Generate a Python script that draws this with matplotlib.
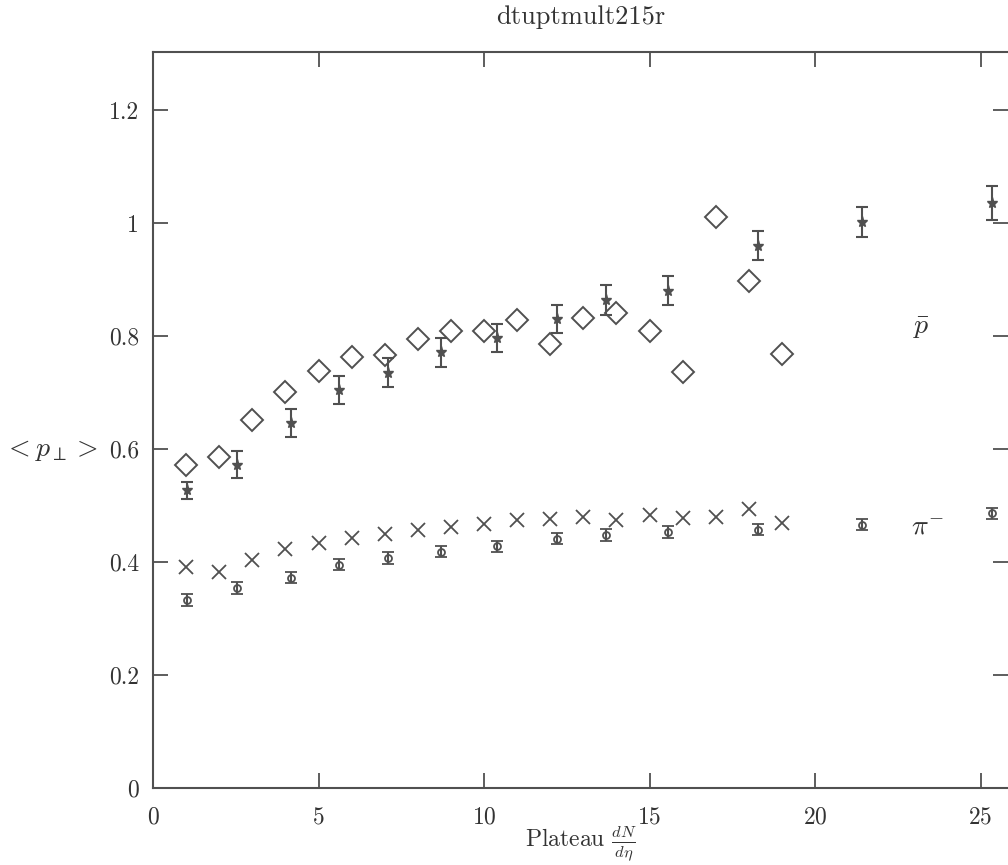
import matplotlib.pyplot as plt

plt.rcParams['font.family'] = ['cmr10', 'DejaVu Serif']
plt.rcParams['mathtext.fontset'] = 'cm'
plt.rcParams['axes.formatter.use_mathtext'] = True

# open diamonds (pbar, second sample), integer multiplicity bins
diam_x = [1, 2, 3, 4, 5, 6, 7, 8, 9, 10, 11, 12, 13, 14, 15, 16, 17, 18, 19]
diam_y = [0.572, 0.586, 0.651, 0.701, 0.738, 0.763, 0.766, 0.794, 0.809, 0.809,
          0.828, 0.786, 0.832, 0.840, 0.809, 0.737, 1.011, 0.897, 0.768]

# crosses (pi-, second sample)
cross_x = [1, 2, 3, 4, 5, 6, 7, 8, 9, 10, 11, 12, 13, 14, 15, 16, 17, 18, 19]
cross_y = [0.392, 0.383, 0.404, 0.423, 0.433, 0.442, 0.450, 0.457, 0.462, 0.467,
           0.474, 0.476, 0.480, 0.474, 0.483, 0.478, 0.480, 0.494, 0.469]

# stars with errors (pbar) and circles with errors (pi-)
bin_x = [1.03, 2.54, 4.17, 5.62, 7.1, 8.7, 10.4, 12.2, 13.69, 15.56, 18.28, 21.42, 25.35]
pbar_y = [0.527, 0.572, 0.646, 0.705, 0.735, 0.771, 0.796, 0.830, 0.864, 0.880,
          0.960, 1.002, 1.035]
pbar_err = [0.015, 0.024, 0.025, 0.025, 0.026, 0.026, 0.025, 0.025, 0.026, 0.026,
            0.025, 0.026, 0.030]
pim_y = [0.333, 0.354, 0.372, 0.395, 0.407, 0.418, 0.428, 0.441, 0.448, 0.453,
         0.457, 0.466, 0.486]
pim_err = [0.010, 0.010, 0.010, 0.010, 0.010, 0.010, 0.010, 0.010, 0.010, 0.010,
           0.010, 0.010, 0.010]

xticks = [0, 5, 10, 15, 20, 25]
yticks = [0, 0.2, 0.4, 0.6, 0.8, 1.0, 1.2]
ytick_labels = ['0', '0.2', '0.4', '0.6', '0.8', '1', '1.2']

ink = '#505050'
txt = '#333333'

fig = plt.figure(figsize=(10.08, 8.65), dpi=100)
ax = fig.add_axes([153 / 1008, 1 - 788 / 865, 1 - 153 / 1008, (788 - 52) / 865])

ax.plot(diam_x, diam_y, ls='none', marker='D', ms=11, mfc='none', mec=ink, mew=1.4)
ax.plot(cross_x, cross_y, ls='none', marker='x', ms=10, mec=ink, mew=1.3)
ax.errorbar(bin_x, pbar_y, yerr=pbar_err, fmt='*', ms=8, color=ink,
            ecolor=ink, elinewidth=1.5, capsize=4.3, capthick=1.5)
ax.errorbar(bin_x, pim_y, yerr=pim_err, fmt='o', ms=5, mfc='none', mec=ink,
            mew=1.3, ecolor=ink, elinewidth=1.5, capsize=4.3, capthick=1.5)

ax.text(23.2, 0.814, r'$\bar{p}$', fontsize=20, color=txt, ha='center', va='center')
ax.text(23.4, 0.462, r'$\pi^{-}$', fontsize=20, color=txt, ha='center', va='center')

ax.set_xlim(0, 855 / 33.1)
ax.set_ylim(0, 736 / 565)
ax.set_xticks(xticks)
ax.set_yticks(yticks)
ax.set_yticklabels(ytick_labels)
ax.tick_params(direction='in', length=11, width=1.3, color=ink, labelsize=17,
               labelcolor=txt, top=True, right=True, pad=10)
ax.tick_params(axis='x', pad=13)
for side in ['left', 'bottom', 'top']:
    ax.spines[side].set_color(ink)
    ax.spines[side].set_linewidth(1.5)
ax.spines['right'].set_visible(False)

ax.set_title('dtuptmult215r', fontsize=19, color=txt, pad=20)
ax.set_xlabel(r'Plateau $\frac{dN}{d\eta}$', fontsize=17, color=txt)
ax.xaxis.set_label_coords(0.5, -0.05)
ax.text(-0.12, 0.459, r'$<p_{\perp}>$', transform=ax.transAxes, fontsize=20,
        color=txt, ha='center', va='center')

fig.savefig('out.png', dpi=100)
